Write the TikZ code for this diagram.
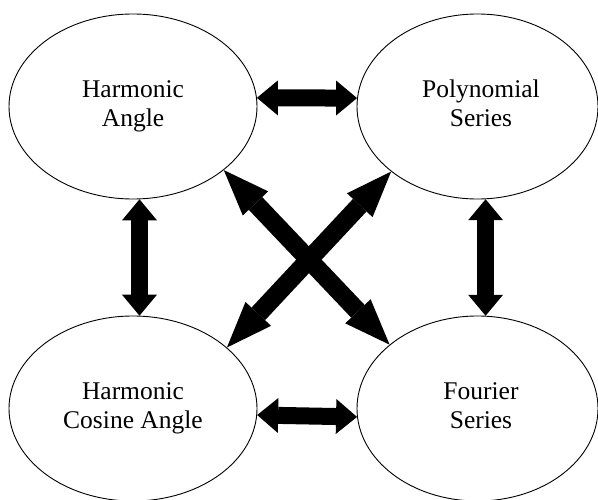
\documentclass[tikz,border=0pt]{standalone}
\usepackage{fontspec}
\setmainfont{Liberation Serif}
\usetikzlibrary{shapes.geometric,arrows.meta}
\tikzset{
  oval/.style={draw=black, line width=0.9pt, ellipse, minimum width=248pt, minimum height=185pt, inner sep=0pt},
  ovalr/.style={oval, minimum width=241pt},
  txt/.style={align=center, inner sep=0pt, font=\fontsize{25.5}{28.5}\selectfont},
  dbl/.style={line width=17pt, {Triangle[length=21pt,width=35pt,line width=0pt]}-{Triangle[length=21pt,width=35pt,line width=0pt]}},
  dbldiag/.style={line width=18.5pt, {Triangle[length=46pt,width=35pt,line width=0pt]}-{Triangle[length=46pt,width=35pt,line width=0pt]}}
}
\begin{document}
\begin{tikzpicture}[x=1pt,y=-1pt]
\useasboundingbox (0,0) rectangle (598,500);
\node[oval]  (tl) at (133,106.5) {};
\node[ovalr] (tr) at (477.5,106.5) {};
\node[oval]  (bl) at (133,408.5) {};
\node[ovalr] (br) at (477.5,408.5) {};
\node[txt] (tlt) at (133,106.5) {Harmonic\strut\\Angle\strut};
\node[txt] (trt) at (481,106.5) {Polynomial\strut\\Series\strut};
\node[txt] (blt) at (133,408.5) {Harmonic\strut\\Cosine Angle\strut};
\node[txt] (brt) at (481,408.5) {Fourier\strut\\Series\strut};
\draw[dbl] (tl.4) -- (tr.176);
\draw[dbl] (bl.-3.5) -- (br.184);
\draw[dbl] (tl.-86) -- (bl.86);
\draw[dbl] (tr.-85) -- (br.85);
\draw[dbldiag] (tl.-35.7) -- (br.144.6);
\draw[dbldiag] (tr.217.9) -- (bl.33.9);
\end{tikzpicture}
\end{document}
